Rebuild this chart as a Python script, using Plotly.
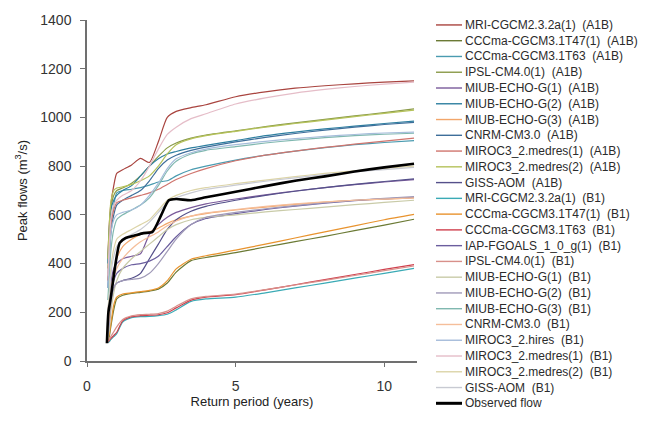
import plotly.graph_objects as go

# Return periods (years) shared by the modelled flow-frequency curves
return_period = [0.7, 0.75, 0.8, 0.9, 1.0, 1.2, 1.5, 1.8, 2.1, 2.4, 2.7, 3.0,
                 3.5, 4.0, 5.0, 6.0, 7.0, 8.0, 9.0, 10.0, 11.0]

model_names = [
    "MRI-CGCM2.3.2a(1)  (A1B)",
    "CCCma-CGCM3.1T47(1)  (A1B)",
    "CCCma-CGCM3.1T63  (A1B)",
    "IPSL-CM4.0(1)  (A1B)",
    "MIUB-ECHO-G(1)  (A1B)",
    "MIUB-ECHO-G(2)  (A1B)",
    "MIUB-ECHO-G(3)  (A1B)",
    "CNRM-CM3.0  (A1B)",
    "MIROC3_2.medres(1)  (A1B)",
    "MIROC3_2.medres(2)  (A1B)",
    "GISS-AOM  (A1B)",
    "MRI-CGCM2.3.2a(1)  (B1)",
    "CCCma-CGCM3.1T47(1)  (B1)",
    "CCCma-CGCM3.1T63  (B1)",
    "IAP-FGOALS_1_0_g(1)  (B1)",
    "IPSL-CM4.0(1)  (B1)",
    "MIUB-ECHO-G(1)  (B1)",
    "MIUB-ECHO-G(2)  (B1)",
    "MIUB-ECHO-G(3)  (B1)",
    "CNRM-CM3.0  (B1)",
    "MIROC3_2.hires  (B1)",
    "MIROC3_2.medres(1)  (B1)",
    "MIROC3_2.medres(2)  (B1)",
    "GISS-AOM  (B1)",
]

model_colors = [
    "#A9443F", "#6B7A35", "#4A9BB0", "#8A9A48", "#7A5A9A", "#2E7FA0",
    "#F2A66A", "#3E6E9A", "#D0756E", "#B5C25A", "#55508A", "#3AAAB5",
    "#E8932E", "#D0404E", "#6B5E9E", "#D8908A", "#C9CBA8", "#A09AB8",
    "#80B8B0", "#F5BE9A", "#A5BCDA", "#E5BDC8", "#DCD4A8", "#C8CAD2",
]

# Peak flows (m3/s) for each model run, one list per legend entry
mri_a1b = [420, 560, 640, 720, 770, 785, 805, 832, 815, 900, 1000, 1025, 1040, 1052, 1085, 1105, 1120, 1130, 1138, 1145, 1150]
cccma_t47_a1b = [80, 100, 140, 210, 255, 270, 278, 282, 287, 295, 320, 365, 412, 425, 445, 468, 490, 512, 535, 558, 582]
cccma_t63_a1b = [350, 450, 560, 640, 690, 700, 705, 712, 722, 735, 740, 760, 785, 800, 825, 845, 862, 876, 888, 897, 905]
ipsl_a1b = [380, 520, 620, 680, 700, 710, 730, 760, 800, 840, 875, 895, 915, 928, 945, 962, 978, 992, 1006, 1020, 1035]
miub1_a1b = [200, 260, 320, 380, 400, 420, 430, 440, 520, 560, 590, 610, 630, 645, 665, 682, 698, 712, 724, 735, 745]
miub2_a1b = [400, 540, 620, 660, 680, 700, 720, 760, 800, 830, 850, 860, 875, 885, 905, 925, 940, 953, 964, 975, 985]
miub3_a1b = [150, 200, 280, 360, 420, 470, 500, 520, 530, 545, 565, 580, 595, 605, 620, 632, 643, 652, 660, 665, 670]
cnrm_a1b = [300, 420, 520, 600, 640, 660, 680, 700, 740, 790, 825, 845, 865, 878, 900, 918, 934, 948, 960, 971, 980]
miroc_m1_a1b = [330, 460, 560, 620, 650, 660, 670, 680, 690, 705, 725, 745, 770, 790, 822, 845, 862, 877, 890, 903, 915]
miroc_m2_a1b = [420, 560, 650, 700, 710, 715, 725, 740, 760, 800, 850, 888, 912, 925, 943, 960, 975, 989, 1003, 1017, 1030]
giss_a1b = [150, 200, 250, 300, 320, 330, 340, 360, 420, 480, 540, 580, 615, 635, 660, 680, 697, 712, 725, 737, 748]
mri_b1 = [75, 80, 88, 100, 112, 160, 178, 182, 183, 186, 192, 210, 245, 255, 262, 280, 300, 320, 340, 360, 380]
cccma_t47_b1 = [85, 110, 150, 230, 262, 275, 280, 285, 290, 300, 330, 378, 418, 432, 455, 480, 505, 530, 555, 580, 602]
cccma_t63_b1 = [78, 85, 92, 105, 118, 165, 182, 186, 188, 190, 198, 218, 250, 262, 272, 292, 313, 334, 355, 376, 396]
iap_b1 = [120, 180, 260, 330, 360, 380, 395, 400, 410, 430, 470, 510, 560, 585, 605, 622, 636, 648, 658, 666, 672]
ipsl_b1 = [80, 90, 100, 120, 140, 170, 185, 190, 192, 195, 205, 225, 255, 265, 275, 293, 312, 331, 351, 371, 390]
miub1_b1 = [90, 130, 200, 280, 330, 380, 420, 450, 480, 510, 540, 560, 580, 590, 600, 612, 622, 632, 642, 651, 660]
miub2_b1 = [100, 150, 230, 300, 320, 330, 335, 340, 360, 400, 450, 500, 560, 590, 610, 625, 638, 650, 660, 668, 675]
miub3_b1 = [250, 350, 450, 540, 580, 600, 620, 640, 670, 720, 780, 820, 850, 865, 880, 895, 907, 917, 925, 931, 935]
cnrm_b1 = [130, 190, 270, 340, 380, 420, 460, 490, 510, 530, 555, 575, 595, 608, 622, 635, 645, 653, 660, 665, 670]
miroc_hi_b1 = [300, 420, 520, 580, 600, 610, 620, 640, 680, 730, 790, 830, 855, 870, 888, 902, 913, 922, 930, 936, 940]
miroc_m1_b1 = [350, 480, 580, 640, 660, 680, 700, 740, 800, 870, 930, 960, 995, 1015, 1055, 1080, 1100, 1115, 1127, 1137, 1145]
miroc_m2_b1 = [200, 280, 380, 460, 500, 520, 540, 560, 580, 620, 660, 680, 700, 712, 728, 743, 757, 770, 781, 791, 800]
giss_b1 = [180, 250, 350, 430, 470, 500, 520, 540, 570, 610, 650, 670, 690, 705, 722, 738, 752, 765, 776, 786, 795]

model_flows = [
    mri_a1b, cccma_t47_a1b, cccma_t63_a1b, ipsl_a1b, miub1_a1b, miub2_a1b,
    miub3_a1b, cnrm_a1b, miroc_m1_a1b, miroc_m2_a1b, giss_a1b, mri_b1,
    cccma_t47_b1, cccma_t63_b1, iap_b1, ipsl_b1, miub1_b1, miub2_b1,
    miub3_b1, cnrm_b1, miroc_hi_b1, miroc_m1_b1, miroc_m2_b1, giss_b1,
]

# Observed flow-frequency curve
obs_period = [0.67, 0.72, 0.8, 0.9, 1.0, 1.1, 1.3, 1.6, 1.9, 2.2, 2.5, 2.75,
              3.0, 3.5, 4.0, 5.0, 6.0, 7.0, 8.0, 9.0, 10.0, 11.0]
obs_flow = [73, 200, 260, 350, 430, 485, 505, 515, 525, 530, 600, 660,
            665, 660, 672, 695, 718, 740, 758, 778, 795, 810]

x_ticks = [0, 5, 10]
y_ticks = [0, 200, 400, 600, 800, 1000, 1200, 1400]

W, H = 653, 422
M_L, M_R, M_T, M_B = 87, 236, 16, 61
plot_w = W - M_L - M_R
plot_h = H - M_T - M_B

FONT = "Arial, 'Liberation Sans', sans-serif"

fig = go.Figure()
for name, color, flows in zip(model_names, model_colors, model_flows):
    fig.add_trace(go.Scatter(
        x=return_period, y=flows, mode="lines", name=name,
        line=dict(color=color, width=1.2, shape="spline", smoothing=0.6),
        showlegend=False,
    ))
fig.add_trace(go.Scatter(
    x=obs_period, y=obs_flow, mode="lines", name="Observed flow",
    line=dict(color="black", width=2.6, shape="spline", smoothing=0.6),
    showlegend=False,
))


def px_x(px):
    return (px - M_L) / plot_w


def px_y(py):
    return (H - M_B - py) / plot_h


# Hand-built legend column on the right
legend_names = model_names + ["Observed flow"]
legend_colors = model_colors + ["black"]
row0, row_gap = 21, 15.95
shapes, annotations = [], []
for i, (name, color) in enumerate(zip(legend_names, legend_colors)):
    yc = px_y(row0 + i * row_gap)
    shapes.append(dict(
        type="line", xref="paper", yref="paper",
        x0=px_x(436), x1=px_x(462), y0=yc, y1=yc,
        line=dict(color=color, width=3 if name == "Observed flow" else 1.4),
    ))
    annotations.append(dict(
        xref="paper", yref="paper", x=px_x(462.5), y=yc,
        text=name.replace("  ", "\u00a0\u00a0"), showarrow=False,
        xanchor="left", yanchor="middle",
        font=dict(family=FONT, size=12, color="#2b2b2b"),
    ))

fig.update_layout(
    width=W, height=H,
    margin=dict(l=M_L, r=M_R, t=M_T, b=M_B),
    paper_bgcolor="white", plot_bgcolor="white",
    shapes=shapes, annotations=annotations,
    font=dict(family=FONT, color="#333333"),
)
fig.update_xaxes(
    range=[0, 11.1], tickvals=x_ticks, ticktext=[str(v) for v in x_ticks],
    showgrid=False, zeroline=False, showline=True, linecolor="#707070",
    linewidth=1.5, ticks="outside", ticklen=4, tickcolor="#707070",
    ticklabelstandoff=7, tickfont=dict(size=14, family=FONT, color="#333333"),
    title=dict(text="Return period (years)", standoff=2,
               font=dict(size=13, family=FONT, color="#222222")),
)
fig.update_yaxes(
    range=[0, 1400], tickvals=y_ticks, ticktext=[str(v) for v in y_ticks],
    showgrid=False, zeroline=False, showline=True, linecolor="#707070",
    linewidth=1.5, ticks="outside", ticklen=5, tickcolor="#707070",
    ticklabelstandoff=6, tickfont=dict(size=14, family=FONT, color="#333333"),
    title=dict(text="Peak flows (m<sup>3</sup>/s)", standoff=10,
               font=dict(size=13, family=FONT, color="#222222")),
)

fig.write_html("out.html")
